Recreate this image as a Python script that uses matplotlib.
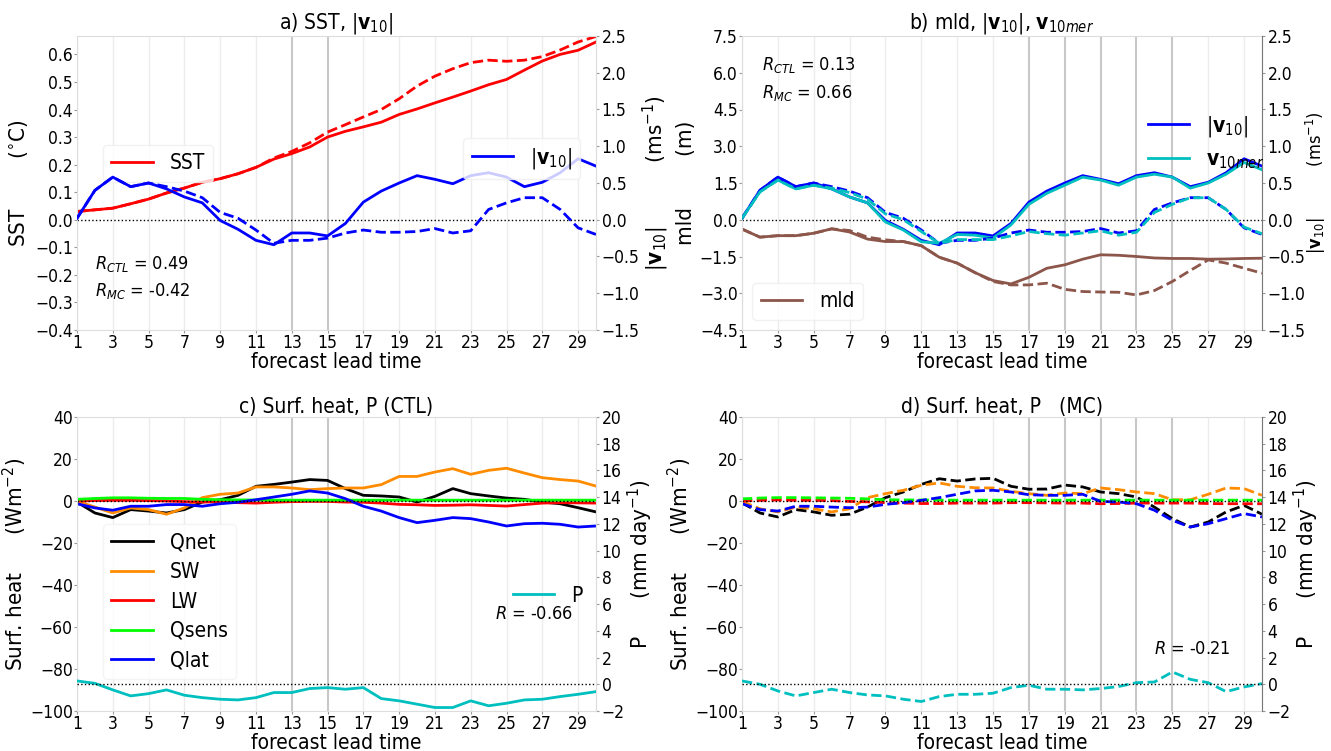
import numpy as np
import matplotlib
matplotlib.use("Agg")
import matplotlib.pyplot as plt
from matplotlib import font_manager as fm

plt.rcParams["font.family"] = "DejaVu Sans"
# the reference text is narrow; use the condensed DejaVu face if it is installed
has_cond = any(f.name == "DejaVu Sans" and f.stretch == "condensed"
               for f in fm.fontManager.ttflist)
if has_cond:
    plt.rcParams["font.stretch"] = "condensed"
SCALE = 1.0 if has_cond else 0.88

days = np.arange(1, 31)

# ---- panel a: SST (degC) and |v10| (m/s) ----
sst_ctl = [0.030, 0.036, 0.042, 0.058, 0.075, 0.097, 0.115, 0.136, 0.149, 0.167,
           0.190, 0.220, 0.240, 0.264, 0.300, 0.321, 0.337, 0.354, 0.382, 0.402,
           0.424, 0.445, 0.467, 0.490, 0.509, 0.543, 0.576, 0.600, 0.615, 0.645]
sst_mc = [0.030, 0.036, 0.042, 0.058, 0.075, 0.097, 0.115, 0.136, 0.149, 0.167,
          0.190, 0.224, 0.248, 0.279, 0.318, 0.345, 0.373, 0.400, 0.439, 0.485,
          0.521, 0.548, 0.570, 0.579, 0.575, 0.579, 0.592, 0.616, 0.645, 0.665]
v10_ctl = [0.02, 0.40, 0.58, 0.45, 0.50, 0.42, 0.31, 0.23, -0.01, -0.13,
           -0.28, -0.34, -0.18, -0.18, -0.22, -0.05, 0.24, 0.39, 0.50, 0.60,
           0.55, 0.49, 0.60, 0.64, 0.58, 0.45, 0.51, 0.64, 0.83, 0.73]
v10_mc = [0.02, 0.40, 0.58, 0.45, 0.50, 0.45, 0.39, 0.30, 0.10, 0.02,
          -0.14, -0.32, -0.28, -0.28, -0.25, -0.18, -0.14, -0.17, -0.17, -0.16,
          -0.12, -0.18, -0.15, 0.14, 0.23, 0.30, 0.30, 0.14, -0.11, -0.20]

# ---- panel b: mld (m) and meridional wind (m/s) ----
v10mer_ctl = [0.02, 0.38, 0.54, 0.42, 0.47, 0.42, 0.31, 0.23, -0.03, -0.14,
              -0.30, -0.32, -0.20, -0.21, -0.25, -0.07, 0.21, 0.36, 0.47, 0.58,
              0.54, 0.47, 0.58, 0.62, 0.58, 0.43, 0.50, 0.62, 0.78, 0.68]
v10mer_mc = [0.02, 0.38, 0.54, 0.42, 0.47, 0.43, 0.37, 0.28, 0.08, 0.00,
             -0.16, -0.32, -0.27, -0.27, -0.27, -0.22, -0.16, -0.19, -0.21, -0.18,
             -0.15, -0.21, -0.17, 0.10, 0.21, 0.30, 0.30, 0.14, -0.10, -0.19]
mld_ctl = [-0.38, -0.71, -0.65, -0.65, -0.55, -0.37, -0.50, -0.79, -0.89, -0.89,
           -1.06, -1.53, -1.77, -2.16, -2.48, -2.62, -2.35, -1.98, -1.84, -1.61,
           -1.43, -1.45, -1.50, -1.56, -1.58, -1.58, -1.61, -1.60, -1.58, -1.57]
mld_mc = [-0.38, -0.71, -0.65, -0.65, -0.55, -0.37, -0.44, -0.71, -0.82, -0.89,
          -1.06, -1.53, -1.77, -2.16, -2.52, -2.66, -2.66, -2.59, -2.84, -2.93,
          -2.95, -2.96, -3.07, -2.89, -2.52, -2.07, -1.64, -1.77, -1.98, -2.18]

# ---- panels c, d: surface heat fluxes (W/m2) and precipitation (mm/day) ----
qnet_ctl = [-0.5, -5.7, -7.9, -4.1, -4.8, -5.7, -4.1, -0.5, 0.6, 2.7,
            7.0, 7.9, 9.0, 10.2, 9.8, 5.9, 2.7, 2.4, 1.9, -0.5,
            2.2, 5.9, 3.5, 2.4, 1.4, 0.8, -0.5, -1.3, -3.2, -5.2]
sw_ctl = [0.0, -2.9, -5.7, -3.3, -4.1, -6.3, -3.3, 1.6, 3.2, 3.8,
          6.7, 6.7, 6.2, 5.4, 5.9, 6.2, 6.2, 7.8, 11.7, 11.7,
          13.8, 15.4, 12.7, 14.6, 15.6, 13.3, 11.1, 10.2, 9.5, 7.1]
lw_ctl = [0.0, 0.2, 0.3, 0.3, 0.2, 0.0, -0.3, -0.5, -0.4, -0.8,
          -1.0, -0.6, -0.3, -0.2, -0.2, -0.5, -0.6, -1.0, -1.6, -1.8,
          -2.1, -2.0, -1.8, -2.1, -2.4, -1.7, -1.0, -0.8, -0.9, -1.0]
qsens_ctl = [0.8, 1.2, 1.5, 1.5, 1.3, 1.2, 1.2, 0.8, 0.6, 0.5,
             0.5, 0.4, 0.4, 0.4, 0.4, 0.4, 0.4, 0.4, 0.4, 0.4,
             0.4, 0.4, 0.4, 0.4, 0.4, 0.4, 0.4, 0.4, 0.4, 0.4]
qlat_ctl = [-1.3, -3.3, -4.4, -2.5, -2.5, -1.7, -1.7, -2.5, -1.3, -0.6,
            0.6, 1.9, 3.2, 4.8, 3.8, 1.1, -2.5, -4.8, -7.9, -10.3,
            -9.2, -7.9, -8.4, -10.0, -11.9, -10.8, -10.6, -11.1, -12.4, -11.9]
p_ctl = [0.25, 0.07, -0.42, -0.87, -0.70, -0.42, -0.82, -1.00, -1.12, -1.17,
         -1.00, -0.62, -0.62, -0.32, -0.25, -0.37, -0.25, -1.07, -1.24, -1.49,
         -1.74, -1.74, -1.24, -1.61, -1.42, -1.17, -1.12, -0.92, -0.75, -0.55]

qnet_mc = [-0.8, -5.7, -7.6, -4.1, -5.2, -6.8, -6.3, -2.9, 1.6, 4.3,
           7.9, 10.6, 9.5, 10.5, 10.8, 7.0, 5.6, 5.7, 7.6, 6.7,
           4.3, 3.5, 1.9, -2.9, -8.4, -12.4, -10.0, -5.2, -2.1, -6.3]
sw_mc = [-0.2, -3.7, -5.2, -2.9, -3.7, -5.2, -3.7, 1.6, 3.5, 5.1,
         7.5, 8.6, 7.0, 6.3, 6.2, 4.6, 3.5, 2.7, 3.8, 3.5,
         6.2, 5.4, 4.3, 3.5, 0.6, 0.6, 3.2, 6.2, 5.9, 2.7]
lw_mc = [0.0, 0.3, 0.5, 0.3, 0.3, 0.2, -0.2, -0.4, -0.8, -1.0,
         -1.2, -1.2, -1.0, -1.0, -1.0, -0.8, -0.8, -0.9, -1.0, -1.0,
         -1.3, -1.2, -1.0, -1.0, -1.0, -1.0, -1.2, -1.3, -1.3, -1.3]
qsens_mc = [1.0, 1.4, 1.6, 1.6, 1.5, 1.4, 1.3, 1.0, 0.6, 0.5,
            0.5, 0.4, 0.4, 0.4, 0.4, 0.4, 0.4, 0.4, 0.4, 0.4,
            0.4, 0.4, 0.4, 0.4, 0.4, 0.4, 0.4, 0.4, 0.4, 0.4]
qlat_mc = [-1.3, -4.1, -4.8, -2.5, -2.5, -2.9, -3.2, -2.9, -1.6, -0.8,
           0.3, 1.6, 3.2, 4.8, 5.1, 4.3, 3.0, 2.7, 2.7, 3.2,
           -0.2, -0.5, -1.3, -4.4, -9.2, -12.4, -10.8, -8.4, -6.0, -7.6]
p_mc = [0.25, 0.00, -0.50, -0.87, -0.62, -0.37, -0.62, -0.80, -0.87, -1.12,
        -1.29, -0.92, -0.75, -0.75, -0.67, -0.25, -0.07, -0.37, -0.37, -0.42,
        -0.32, -0.17, 0.12, 0.17, 0.92, 0.37, 0.12, -0.55, -0.20, 0.05]

xticks = np.arange(1, 30, 2)

fig = plt.figure(figsize=(13.31, 7.51), dpi=100)
W, H = 1331, 751
def pos(l, r, t, b):
    return [l / W, 1 - b / H, (r - l) / W, (b - t) / H]

ax_a = fig.add_axes(pos(77, 596, 36, 330))
ax_b = fig.add_axes(pos(742, 1262, 36, 330))
ax_c = fig.add_axes(pos(77, 596, 417, 711))
ax_d = fig.add_axes(pos(742, 1262, 417, 711))

LW = 2.0
TICK_FS = 12.5 * SCALE
LEG_FS = 15 * SCALE
LAB_FS = 16 * SCALE
XLAB_FS = 15 * SCALE
TTL_FS = 15 * SCALE
TXT_FS = 13 * SCALE


def style(ax, ax2, dark_days, right_dark=False):
    ax.set_xlim(1, 30)
    ax.set_xticks(xticks)
    for d in xticks:
        if d in dark_days:
            ax.axvline(d, color="#c8c8c8", lw=1.5, zorder=0)
        else:
            ax.axvline(d, color="#ececec", lw=1.0, zorder=0)
    for sp in ax.spines.values():
        sp.set_color("#dddddd")
    for sp in ax2.spines.values():
        sp.set_visible(False)
    ax2.spines["right"].set_visible(True)
    ax2.spines["right"].set_color("#777777" if right_dark else "#dddddd")
    ax.tick_params(labelsize=TICK_FS, length=2, color="#999999", pad=1)
    ax2.tick_params(labelsize=TICK_FS, length=2, color="#999999", pad=2)
    ax.set_xlabel("forecast lead time", fontsize=XLAB_FS, labelpad=0)


# ---- a) SST, |v10| ----
ax = ax_a
ax2 = ax.twinx()
style(ax, ax2, [13, 15])
ax.plot(days, sst_ctl, color="red", lw=LW, label="SST")
ax.plot(days, sst_mc, color="red", lw=LW, ls="--")
ax.axhline(0, color="k", ls=":", lw=1)
ax2.plot(days, v10_ctl, color="blue", lw=LW, label=r"$|\mathbf{v}_{10}|$")
ax2.plot(days, v10_mc, color="blue", lw=LW, ls="--")
ax.set_ylim(-0.4, 0.6667)
ax.set_yticks(np.round(np.arange(-0.4, 0.61, 0.1), 1))
ax2.set_ylim(-1.5, 2.5)
ax2.set_yticks(np.arange(-1.5, 2.51, 0.5))
ax.set_ylabel(r"SST        ($^{\circ}$C)", fontsize=LAB_FS, labelpad=3)
ax2.set_ylabel(r"$|\mathbf{v}_{10}|$          (ms$^{-1}$)", fontsize=LAB_FS, labelpad=1)
ax.set_title(r"a) SST, $|\mathbf{v}_{10}|$", fontsize=TTL_FS, pad=3)
ax.legend(loc="upper left", bbox_to_anchor=(0.03, 0.665), fontsize=LEG_FS,
          edgecolor="#eeeeee", handlelength=2)
ax2.legend(loc="upper right", bbox_to_anchor=(0.99, 0.69), fontsize=LEG_FS,
           edgecolor="#eeeeee", handlelength=2)
ax.text(0.035, 0.26, "$R_{CTL}$ = 0.49\n$R_{MC}$ = -0.42", transform=ax.transAxes,
        fontsize=TXT_FS, va="top", ha="left", linespacing=1.5)

# ---- b) mld, |v10|, v10mer ----
ax = ax_b
ax2 = ax.twinx()
style(ax, ax2, [17, 19, 21, 23, 25], right_dark=True)
ax.plot(days, mld_ctl, color="#8c564b", lw=LW, label="mld")
ax.plot(days, mld_mc, color="#8c564b", lw=LW, ls="--")
ax.axhline(0, color="k", ls=":", lw=1)
ax2.plot(days, v10_ctl, color="blue", lw=LW, label=r"$|\mathbf{v}_{10}|$")
ax2.plot(days, v10mer_ctl, color="c", lw=LW, label=r"$\mathbf{v}_{10mer}$")
ax2.plot(days, v10_mc, color="blue", lw=LW, ls="--")
ax2.plot(days, v10mer_mc, color="c", lw=LW, ls="--")
ax.set_ylim(-4.5, 7.5)
ax.set_yticks(np.arange(-4.5, 7.51, 1.5))
ax2.set_ylim(-1.5, 2.5)
ax2.set_yticks(np.arange(-1.5, 2.51, 0.5))
ax.set_ylabel(r"mld        (m)", fontsize=LAB_FS, labelpad=3)
ax2.set_ylabel(r"$|\mathbf{v}_{10}|$          (ms$^{-1}$)", fontsize=13 * SCALE, labelpad=-1)
ax.set_title(r"b) mld, $|\mathbf{v}_{10}|$, $\mathbf{v}_{10mer}$", fontsize=TTL_FS, pad=3)
ax.legend(loc="lower left", bbox_to_anchor=(0.0, 0.0), fontsize=LEG_FS,
          edgecolor="#eeeeee", handlelength=2)
ax2.legend(loc="upper right", bbox_to_anchor=(1.04, 0.8), fontsize=LEG_FS,
           frameon=False, handlelength=2)
ax.text(0.038, 0.935, "$R_{CTL}$ = 0.13\n$R_{MC}$ = 0.66", transform=ax.transAxes,
        fontsize=TXT_FS, va="top", ha="left", linespacing=1.5)

# ---- c) and d) surface heat, P ----
flux_colors = ["black", "darkorange", "red", "lime", "blue"]
flux_names = ["Qnet", "SW", "LW", "Qsens", "Qlat"]
twins = []

for ax, series, pser, ls, title, dark, rdark in [
        (ax_c, [qnet_ctl, sw_ctl, lw_ctl, qsens_ctl, qlat_ctl], p_ctl, "-",
         "c) Surf. heat, P (CTL)", [13, 15], False),
        (ax_d, [qnet_mc, sw_mc, lw_mc, qsens_mc, qlat_mc], p_mc, "--",
         "d) Surf. heat, P   (MC)", [17, 19, 21, 23, 25], True)]:
    ax2 = ax.twinx()
    twins.append(ax2)
    style(ax, ax2, dark, right_dark=rdark)
    for vals, col, name in zip(series, flux_colors, flux_names):
        ax.plot(days, vals, color=col, lw=LW, ls=ls, label=name)
    ax.axhline(0, color="k", ls=":", lw=1)
    ax2.plot(days, pser, color="c", lw=LW, ls=ls, label="P")
    ax2.axhline(0, color="k", ls=":", lw=1)
    ax.set_ylim(-100, 40)
    ax.set_yticks(np.arange(-100, 41, 20))
    ax2.set_ylim(-2, 20)
    ax2.set_yticks(np.arange(-2, 21, 2))
    ax.set_ylabel(r"Surf. heat      (Wm$^{-2}$)", fontsize=LAB_FS, labelpad=1)
    ax2.set_ylabel(r"P      (mm day$^{-1}$)", fontsize=LAB_FS, labelpad=1)
    ax.set_title(title, fontsize=TTL_FS, pad=3)

ax_c.legend(loc="upper left", bbox_to_anchor=(0.03, 0.67), fontsize=LEG_FS,
            edgecolor="#f2f2f2", handlelength=2, labelspacing=0.45)
twins[0].legend(loc="upper right", bbox_to_anchor=(1.01, 0.49),
                fontsize=LEG_FS, frameon=False, handlelength=2)
ax_c.text(0.955, 0.33, "$R$ = -0.66", transform=ax_c.transAxes,
          fontsize=TXT_FS, va="center", ha="right")
ax_d.text(0.94, 0.21, "$R$ = -0.21", transform=ax_d.transAxes,
          fontsize=TXT_FS, va="center", ha="right")

fig.savefig("out.png", dpi=100)
